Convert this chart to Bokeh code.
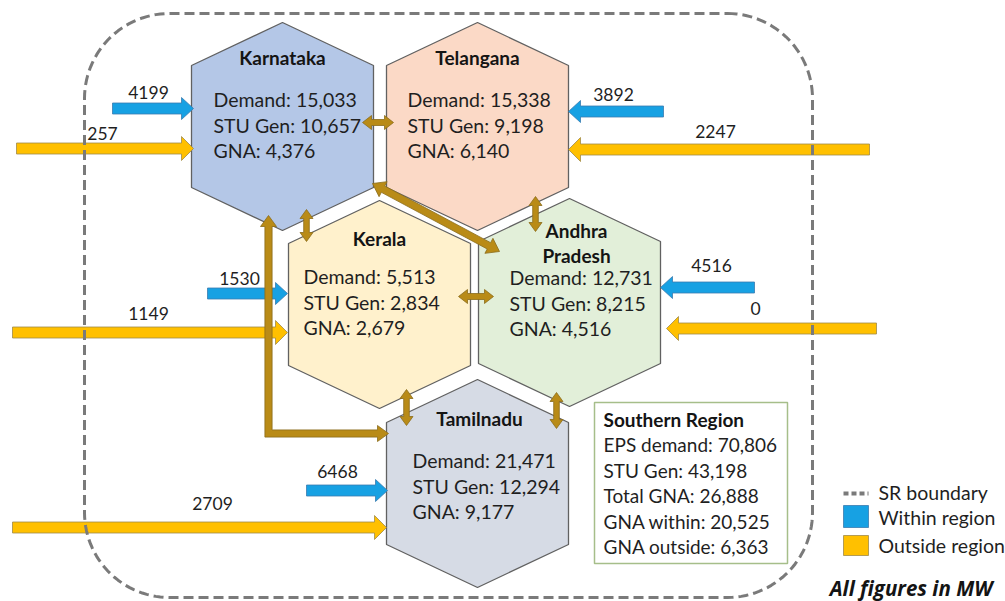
import numpy as np
from bokeh.plotting import figure
from bokeh.models import Range1d
from bokeh.core.properties import value
from bokeh.embed import file_html
from bokeh.resources import INLINE

# ---------------- data ----------------
states = ["Karnataka", "Telangana", "Kerala", "Andhra Pradesh", "Tamilnadu"]
demand = [15033, 15338, 5513, 12731, 21471]
stu_gen = [10657, 9198, 2834, 8215, 12294]
gna = [4376, 6140, 2679, 4516, 9177]
gna_within = [4199, 3892, 1530, 4516, 6468]
gna_outside = [257, 2247, 1149, 0, 2709]

region_title = "Southern Region"
region_labels = ["EPS demand", "STU Gen", "Total GNA", "GNA within", "GNA outside"]
region_values = [70806, 43198, 26888, 20525, 6363]

legend_labels = ["SR boundary", "Within region", "Outside region"]
note = "All figures in MW"

# ---------------- styles / layout ----------------
W, H = 1005, 601
state_colors = ["#b4c7e7", "#fbd9c6", "#fff1cc", "#e2efd9", "#d6dbe5"]
hex_line = "#616161"
blue = "#17a1e3"
blue_line = "#3a7bb0"
yellow = "#ffc000"
yellow_line = "#a08a4a"
brown = "#b98b17"
brown_line = "#8a6c1c"
txt = "#1f1f1f"
FONT = "Lato"

hex_cx = [282, 477, 379, 569, 477]
hex_cy = [126, 126, 304, 302, 483]
HW, TIP, SH = 91, 104, 61

title_xy = [(282, 57), (477, 57), (379, 238), (576, 230), (479, 418)]
text_left = [213, 407, 303, 509, 412]
text_y0 = [99, 99, 276, 277, 460]
LINE = 25.5

within_geom = [(112, 193, 108), (663, 568, 111), (207, 287, 293), (754, 660, 287), (306, 387, 490)]
within_lab = [(148, 92), (613, 94), (239, 278), (711, 265), (337, 471)]
outside_geom = [(16, 193, 148), (869, 568, 149), (12, 287, 332), (876, 666, 328), (12, 386, 527)]
outside_lab = [(102, 133), (715, 131), (148, 313), (755, 308), (212, 503)]

# ---------------- helpers ----------------
def hexagon(cx, cy):
    xs = [cx, cx + HW, cx + HW, cx, cx - HW, cx - HW]
    ys = [cy - TIP, cy - SH, cy + SH, cy + TIP, cy + SH, cy - SH]
    return xs, ys


def arrow_poly(x0, y0, x1, y1, w, hw, hl, double=False):
    P0 = np.array([x0, y0], float)
    P1 = np.array([x1, y1], float)
    d = P1 - P0
    u = d / np.hypot(*d)
    n = np.array([-u[1], u[0]])
    b = P1 - hl * u
    if double:
        a = P0 + hl * u
        pts = [P0, a + n * hw, a + n * w, b + n * w, b + n * hw, P1,
               b - n * hw, b - n * w, a - n * w, a - n * hw]
    else:
        pts = [P0 + n * w, b + n * w, b + n * hw, P1, b - n * hw, b - n * w, P0 - n * w]
    return [float(q[0]) for q in pts], [float(q[1]) for q in pts]


p = figure(width=W, height=H, x_range=Range1d(0, W), y_range=Range1d(H, 0),
           output_backend="svg", toolbar_location=None, min_border=0,
           x_axis_type=None, y_axis_type=None)
p.grid.visible = False
p.outline_line_color = None
p.background_fill_color = "white"

# hexagons
hx, hy = [], []
for cx, cy in zip(hex_cx, hex_cy):
    a, b = hexagon(cx, cy)
    hx.append(a)
    hy.append(b)
p.patches(hx, hy, fill_color=state_colors, line_color=hex_line, line_width=1.3)

# within / outside arrows
bx, by = [], []
for (x0, x1, y) in within_geom:
    a, b = arrow_poly(x0, y, x1, y, 5.5, 11, 12)
    bx.append(a); by.append(b)
p.patches(bx, by, fill_color=blue, line_color=blue_line, line_width=0.8)

yx, yy = [], []
for (x0, x1, y) in outside_geom:
    a, b = arrow_poly(x0, y, x1, y, 5.5, 12, 12)
    yx.append(a); yy.append(b)
p.patches(yx, yy, fill_color=yellow, line_color=yellow_line, line_width=0.8)

# inter-state arrows
inter = [
    ((362, 122, 393, 122), 3, 7, 9),
    ((306, 209, 306, 241), 2.8, 6.5, 9),
    ((372, 183, 499, 251), 3.6, 8.5, 12),
    ((535, 196, 535, 231), 2.8, 6.5, 9),
    ((458, 296, 493, 296), 3, 7, 9),
    ((406, 389, 406, 425), 2.8, 6.5, 9),
    ((556, 392, 556, 428), 2.8, 6.5, 9),
]
ix, iy = [], []
for (x0, y0, x1, y1), w, hw, hl in inter:
    a, b = arrow_poly(x0, y0, x1, y1, w, hw, hl, double=True)
    ix.append(a); iy.append(b)
# L-shaped arrow Karnataka -> Tamilnadu
lx0, ly0, ly1, lx1 = 268, 215, 433, 388
w, hw, hl = 3.6, 8, 11
ix.append([lx0, lx0 + hw, lx0 + w, lx0 + w, lx1 - hl, lx1 - hl, lx1, lx1 - hl, lx1 - hl, lx0 - w, lx0 - w, lx0 - hw])
iy.append([ly0, ly0 + hl, ly0 + hl, ly1 - w, ly1 - w, ly1 - hw, ly1, ly1 + hw, ly1 + w, ly1 + w, ly0 + hl, ly0 + hl])
p.patches(ix, iy, fill_color=brown, line_color=brown_line, line_width=0.8)

# SR boundary (rounded dashed rectangle)
L, R, T, B, r = 84, 812, 13, 597, 85
pts_x, pts_y = [], []
def arc(cx, cy, a0, a1):
    t = np.linspace(np.radians(a0), np.radians(a1), 30)
    pts_x.extend((cx + r * np.cos(t)).tolist())
    pts_y.extend((cy + r * np.sin(t)).tolist())
arc(R - r, T + r, -90, 0)
arc(R - r, B - r, 0, 90)
arc(L + r, B - r, 90, 180)
arc(L + r, T + r, 180, 270)
pts_x.append(pts_x[0]); pts_y.append(pts_y[0])
p.line(pts_x, pts_y, line_color="#7a7a7a", line_width=3, line_dash="10 5")

# state texts
tx, ty, tt = [], [], []
for i, s in enumerate(states):
    parts = s.split(" ")
    for k, part in enumerate(parts):
        tx.append(title_xy[i][0]); ty.append(title_xy[i][1] + k * 25); tt.append(part)
p.text(x=tx, y=ty, text=tt, text_font=value(FONT), text_font_style="bold",
       text_font_size="19px", text_align="center", text_baseline="middle", text_color="#141414")

bx_, by_, bt_ = [], [], []
for i in range(len(states)):
    lines = [f"Demand: {demand[i]:,}", f"STU Gen: {stu_gen[i]:,}", f"GNA: {gna[i]:,}"]
    for k, ln in enumerate(lines):
        bx_.append(text_left[i]); by_.append(text_y0[i] + k * LINE); bt_.append(ln)
p.text(x=bx_, y=by_, text=bt_, text_font=value(FONT), text_font_size="19.5px",
       text_align="left", text_baseline="middle", text_color=txt)

# arrow labels
lab_x = [q[0] for q in within_lab] + [q[0] for q in outside_lab]
lab_y = [q[1] for q in within_lab] + [q[1] for q in outside_lab]
lab_t = [str(v) for v in gna_within] + [str(v) for v in gna_outside]
p.text(x=lab_x, y=lab_y, text=lab_t, text_font=value(FONT), text_font_size="17.5px",
       text_align="center", text_baseline="middle", text_color=txt)

# Southern region box
p.quad(left=[594], right=[787], top=[402], bottom=[563], fill_color="white",
       line_color="#a6be8a", line_width=1.5)
p.text(x=[603], y=[419], text=[region_title], text_font=value(FONT), text_font_style="bold",
       text_font_size="19px", text_align="left", text_baseline="middle", text_color="#141414")
ry = [444, 469.5, 495, 520.5, 546]
p.text(x=[603] * 5, y=ry, text=[f"{l}: {v:,}" for l, v in zip(region_labels, region_values)],
       text_font=value(FONT), text_font_size="19px", text_align="left",
       text_baseline="middle", text_color=txt)

# legend
p.line([843, 868], [493, 493], line_color="#7a7a7a", line_width=4, line_dash="5 3")
p.quad(left=[843], right=[868], top=[505], bottom=[527], fill_color=blue, line_color=blue_line, line_width=0.8)
p.quad(left=[843], right=[868], top=[535], bottom=[555], fill_color=yellow, line_color=yellow_line, line_width=0.8)
p.text(x=[878] * 3, y=[492, 517, 545], text=legend_labels, text_font=value(FONT),
       text_font_size="19.5px", text_align="left", text_baseline="middle", text_color=txt)
p.text(x=[992], y=[587], text=[note], text_font=value("Open Sans"), text_font_style="bold italic",
       text_font_size="20.5px", text_align="right", text_baseline="middle", text_color="#141414")

open("out.html", "w").write(file_html(p, INLINE))
